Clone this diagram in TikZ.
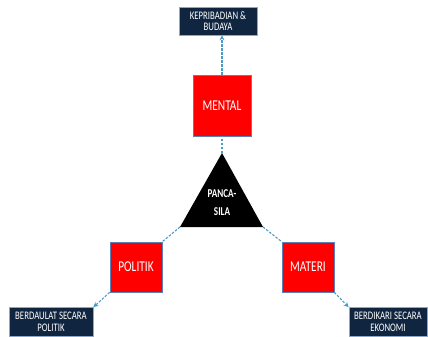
\documentclass[tikz,border=0pt]{standalone}
\usepackage{fontspec}
\setmainfont{Carlito}[FakeStretch=0.76]
\usetikzlibrary{arrows.meta}
\definecolor{navy}{HTML}{10253F}
\definecolor{redbox}{HTML}{FF0000}
\definecolor{rededge}{HTML}{5B7FB8}
\definecolor{navyedge}{HTML}{8AA8CC}
\definecolor{conn}{HTML}{4A9CC8}
\tikzset{
  darkbox/.style={draw=navyedge, line width=0.7pt, fill=navy, text=white, align=center,
    font=\fontsize{11.5}{11.5}\selectfont, inner sep=0pt},
  redsq/.style={draw=rededge, line width=0.7pt, fill=redbox, text=white,
    font=\fontsize{15}{16}\selectfont, inner sep=0pt, minimum width=52pt, minimum height=50pt},
  link/.style={draw=conn, line width=1.1pt, dash pattern=on 2.5pt off 1.5pt},
  linkarrow/.style={link, -{Stealth[length=5pt,width=5pt]}}
}
\begin{document}
\begin{tikzpicture}[x=1pt,y=-1pt]
\useasboundingbox (0,0) rectangle (428,337);
% dark boxes
\node[darkbox, minimum width=78pt, minimum height=28pt] (kep) at (218,21) {KEPRIBADIAN \&\\BUDAYA};
\node[darkbox, minimum width=84pt, minimum height=29pt] (ber) at (51,322) {BERDAULAT SECARA\\POLITIK};
\node[darkbox, minimum width=78pt, minimum height=29pt] (bek) at (388,322) {BERDIKARI SECARA\\EKONOMI};
% red boxes
\node[redsq, minimum width=58pt, minimum height=61pt] (mental) at (222,105.5) {MENTAL};
\node[redsq] (politik) at (136,267) {POLITIK};
\node[redsq] (materi) at (308,267) {MATERI};
% triangle
\coordinate (apex) at (222,153);
\coordinate (bl) at (180,227);
\coordinate (br) at (263,227);
\fill[black] (apex) -- (bl) -- (br) -- cycle;
\node[text=white, align=center, font=\fontsize{12}{18}\bfseries\selectfont] (pancasila) at (222,203) {PANCA-\\SILA};
% connectors
\draw[link] (apex) -- (mental.south);
\draw[linkarrow] (mental.north) -- (mental.north |- kep.south);
\draw[link] (bl) -- (politik.north east);
\draw[linkarrow] (politik.south west) -- (ber.north east);
\draw[link] (br) -- (materi.north west);
\draw[linkarrow] (materi.south east) -- (bek.north west);
\end{tikzpicture}
\end{document}
